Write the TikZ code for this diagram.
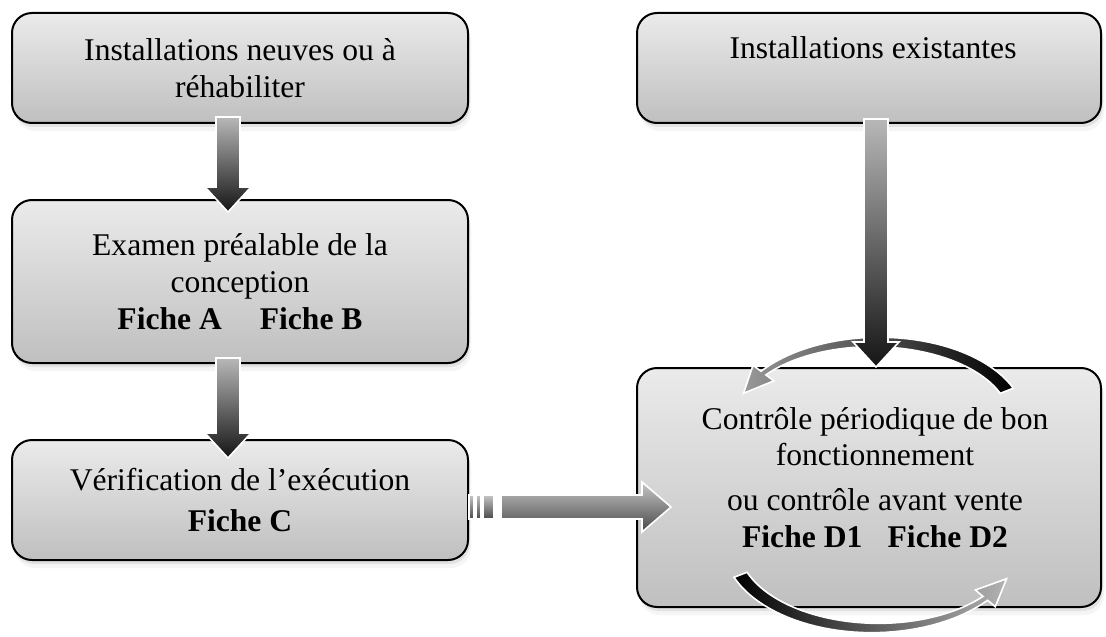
\documentclass[tikz,border=0pt]{standalone}
\usepackage{fontspec}
\setmainfont{Liberation Serif}
\usetikzlibrary{calc,shadows}

\begin{document}
\begin{tikzpicture}
    [x=0.5pt, y=-0.5pt,
    %boxes and block arrows
    box/.style={draw=black, line width=1pt, rounded corners=10pt,
        top color=black!8, bottom color=black!25,
        drop shadow={shadow xshift=1.5pt, shadow yshift=-4pt, opacity=0.08},
        drop shadow={shadow xshift=0.8pt, shadow yshift=-2pt, opacity=0.16},
        align=center, font=\fontsize{15.8}{18.4}\selectfont},
    txt/.style={align=center, inner sep=0pt, font=\fontsize{15.8}{18.4}\selectfont},
    blockarrow/.style={draw=white, line width=0.8pt, top color=black!28, bottom color=black!92},
    sidearrow/.style={draw=white, line width=0.8pt, top color=black!22, bottom color=black!72},
    cyclearc/.style={draw=white, line width=0.8pt}]

    \path[use as bounding box, fill=white] (0,0) rectangle (1106,636);

    % Boxes
    \node[box, minimum width=228pt, minimum height=55pt] (neuves) at (240,68)
        {Installations neuves ou à\\réhabiliter};
    \node[box, minimum width=228pt, minimum height=81.5pt] (examen) at (240,281.5)
        {Examen préalable de la\\conception\\\textbf{Fiche A\hspace{1.2em}Fiche B}};
    \node[box, minimum width=228pt, minimum height=60pt] (verif) at (240,500)
        {Vérification de l’exécution\\[2pt]\textbf{Fiche C}};
    \node[box, minimum width=232pt, minimum height=55pt] (exist) at (869,68) {};
    \node[txt, anchor=base] (exist-txt) at ($(exist.north)+(4,47)$) {Installations existantes};
    \node[box, minimum width=232pt, minimum height=119.5pt] (controle) at (869,487.5) {};
    \node[txt] (controle-txt) at ($(controle.center)+(6,-10)$)
        {Contrôle périodique de bon\\fonctionnement\\[4pt]ou contrôle avant vente\\
         \textbf{Fiche D1\hspace{0.8em}Fiche D2}};

    % Cycle arcs round the last box
    \path[cyclearc, left color=black!40, right color=black]
        plot[domain=22:143, variable=\t, samples=40]
            ({876+(141+7-4*(\t-22)/121)*cos(\t)}, {420-(78+7-4*(\t-22)/121)*sin(\t)})
        -- ({876+154*cos(143)}, {420-91*sin(143)})
        -- ({876+141*cos(160)}, {420-78*sin(160)})
        -- ({876+128*cos(143)}, {420-65*sin(143)})
        -- plot[domain=143:22, variable=\t, samples=40]
            ({876+(141-7+4*(\t-22)/121)*cos(\t)}, {420-(78-7+4*(\t-22)/121)*sin(\t)})
        -- cycle;
    \path[cyclearc, left color=black, right color=black!30]
        plot[domain=159:40, variable=\t, samples=40]
            ({875+(144+7-4*(159-\t)/119)*cos(\t)}, {545+(83+7-4*(159-\t)/119)*sin(\t)})
        -- ({875+157*cos(40)}, {545+96*sin(40)})
        -- ({875+144*cos(24)}, {545+83*sin(24)})
        -- ({875+131*cos(40)}, {545+70*sin(40)})
        -- plot[domain=40:159, variable=\t, samples=40]
            ({875+(144-7+4*(159-\t)/119)*cos(\t)}, {545+(83-7+4*(159-\t)/119)*sin(\t)})
        -- cycle;

    % Down arrows
    \coordinate (a1s) at ($(neuves.south)+(-12,-7)$);
    \coordinate (a1t) at ($(examen.north)+(-12,13)$);
    \coordinate (a2s) at ($(examen.south)+(-12,-6)$);
    \coordinate (a2t) at ($(verif.north)+(-12,19)$);
    \coordinate (a3s) at ($(exist.south)+(7,-5)$);
    \coordinate (a3t) at ($(controle.north)+(7,0)$);
    \foreach \s/\t in {a1s/a1t, a2s/a2t, a3s/a3t}
        \path[blockarrow] ($(\s)+(-12,0)$) -- ($(\s)+(12,0)$) -- ($(\t)+(12,-25)$)
            -- ($(\t)+(23,-25)$) -- (\t) -- ($(\t)+(-23,-25)$) -- ($(\t)+(-12,-25)$) -- cycle;

    % Side arrow with its three bars
    \coordinate (hs) at ($(verif.east)+(0,7)$);
    \coordinate (ht) at ($(controle.west)+(35,19.5)$);
    \foreach \a/\b in {0/5, 7/12, 14/25}
        \path[sidearrow] ($(hs)+(\a,-12)$) rectangle ($(hs)+(\b,12)$);
    \path[sidearrow] ($(hs)+(32,-12)$) -- ($(ht)+(-29,-12)$) -- ($(ht)+(-29,-25)$) -- (ht)
        -- ($(ht)+(-29,25)$) -- ($(ht)+(-29,12)$) -- ($(hs)+(32,12)$) -- cycle;

\end{tikzpicture}
\end{document}
